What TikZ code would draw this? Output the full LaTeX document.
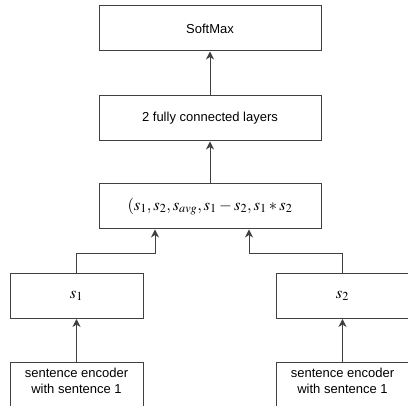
\documentclass[tikz,border=0pt]{standalone}
\usepackage{mathptmx}
\usepackage{fontspec}
\setmainfont{Liberation Sans}
\usetikzlibrary{arrows.meta}
\tikzset{
  blk/.style={draw=black!75, line width=1pt, minimum width=222pt, minimum height=45pt,
    inner sep=0pt, font=\fontsize{13}{15.5}\selectfont},
  smallblk/.style={blk, minimum width=133pt},
  mathblk/.style={font=\fontsize{16.5}{19}\selectfont},
  conn/.style={draw=black!75, line width=1pt, -{Stealth[length=8pt,width=8pt,inset=2.5pt]}},
  lbl/.style={font=\fontsize{13}{16}\selectfont, align=center, inner sep=0pt}
}
\begin{document}
\begin{tikzpicture}[x=1pt,y=-1pt]
\useasboundingbox (0,0) rectangle (408,406);
\clip (0,0) rectangle (408,406);
% stacked blocks
\node[blk] (soft) at (210,28.5) {SoftMax};
\node[blk] (fc) at (210,118.5) {2 fully connected layers};
\node[blk, mathblk] (cat) at (210,206.5) {$(s_1, s_2, s_{avg}, s_1 - s_2, s_1 * s_2$};
% sentence vectors
\node[smallblk, mathblk] (s1) at (76.5,296) {$s_1$};
\node[smallblk, mathblk] (s2) at (342.5,296) {$s_2$};
% encoders
\node[smallblk] (enc1) at (76.5,385.5) {};
\node[smallblk] (enc2) at (342.5,385.5) {};
\node[lbl] at ([yshift=5]enc1.center) {sentence encoder\\with sentence 1};
\node[lbl] at ([yshift=5]enc2.center) {sentence encoder\\with sentence 1};
% merge points on the bottom edge of the concatenation block
\coordinate (inl) at ([xshift=-55]cat.south);
\coordinate (inr) at ([xshift=39]cat.south);
% connectors
\draw[conn] (fc) -- (soft);
\draw[conn] (cat) -- (fc);
\draw[conn] (s1.north) |- ([yshift=-24]inl) -- (inl);
\draw[conn] (s2.north) |- ([yshift=-24]inr) -- (inr);
\draw[conn] (enc1) -- (s1);
\draw[conn] (enc2) -- (s2);
\end{tikzpicture}
\end{document}
